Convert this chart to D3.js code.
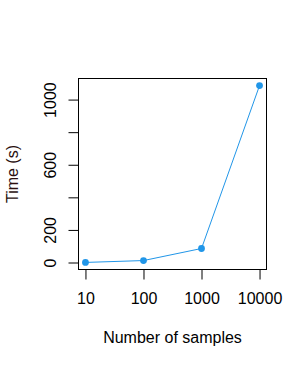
<!DOCTYPE html>
<html>
<head>
<meta charset="utf-8">
<script src="https://cdn.jsdelivr.net/npm/d3@7/dist/d3.min.js"></script>
<style>
html,body{margin:0;padding:0;background:#fff;}
svg{display:block;}
text{font-family:"Liberation Sans",Arial,sans-serif;}
</style>
</head>
<body>
<svg id="chart" width="307" height="367"></svg>
<script>
// Data
const samples = [10, 100, 1000, 10000];
const times = [0.5, 12, 86, 1086];
const xTickValues = [10, 100, 1000, 10000];
const xTickLabels = ["10", "100", "1000", "10000"];
const yTickValues = [0, 200, 400, 600, 800, 1000];
const yTickLabels = ["0", "200", "", "600", "", "1000"];
const xTitle = "Number of samples";
const yTitle = "Time (s)";

const svg = d3.select("#chart");
const L = 78.5, R = 266.5, T = 78.5, B = 269.5;
const color = "#2196e8";

// log scale with R-style 4% padding
const lx0 = Math.log10(d3.min(samples)), lx1 = Math.log10(d3.max(samples));
const px = (lx1 - lx0) * 0.04;
const x = d3.scaleLog().domain([Math.pow(10, lx0 - px), Math.pow(10, lx1 + px)]).range([L, R]);
const ymin = d3.min(times), ymax = d3.max(times), py = (ymax - ymin) * 0.04;
const y = d3.scaleLinear().domain([ymin - py, ymax + py]).range([B, T]);

// box
svg.append("rect").attr("x", L).attr("y", T).attr("width", R - L).attr("height", B - T)
  .attr("fill", "none").attr("stroke", "#000").attr("stroke-width", 1);

// x axis
const xAxis = d3.axisBottom(x).tickValues(xTickValues)
  .tickFormat((d, i) => xTickLabels[i]).tickSize(10).tickSizeOuter(0);
const gx = svg.append("g").attr("transform", `translate(0,${B})`).call(xAxis);
gx.select(".domain").remove();
gx.selectAll(".tick line").attr("stroke", "#000");
gx.selectAll(".tick text").attr("fill", "#000").attr("font-size", 16)
  .attr("y", 34.5).attr("dy", 0);

// y axis
const yAxis = d3.axisLeft(y).tickValues(yTickValues)
  .tickFormat((d, i) => yTickLabels[i]).tickSize(10).tickSizeOuter(0);
const gy = svg.append("g").attr("transform", `translate(${L},0)`).call(yAxis);
gy.select(".domain").remove();
gy.selectAll(".tick line").attr("stroke", "#000");
gy.selectAll(".tick text").attr("fill", "#000").attr("font-size", 16)
  .attr("x", 0).attr("dy", 0).attr("text-anchor", "middle")
  .attr("transform", "translate(-22.5,0) rotate(-90)");

// line
const line = d3.line().x((d, i) => x(samples[i])).y(d => y(d));
svg.append("path").datum(times).attr("d", line)
  .attr("fill", "none").attr("stroke", color).attr("stroke-width", 1);

svg.selectAll("circle.pt").data(times).enter().append("circle")
  .attr("class", "pt")
  .attr("cx", (d, i) => x(samples[i])).attr("cy", d => y(d))
  .attr("r", 3.4).attr("fill", color);

// titles
svg.append("text").attr("x", (L + R) / 2).attr("y", 343)
  .attr("text-anchor", "middle").attr("font-size", 16).attr("fill", "#000").text(xTitle);
svg.append("text").attr("transform", `translate(18,${(T + B) / 2}) rotate(-90)`)
  .attr("text-anchor", "middle").attr("font-size", 16).attr("fill", "#2a0f0f").text(yTitle);
</script>
</body>
</html>
